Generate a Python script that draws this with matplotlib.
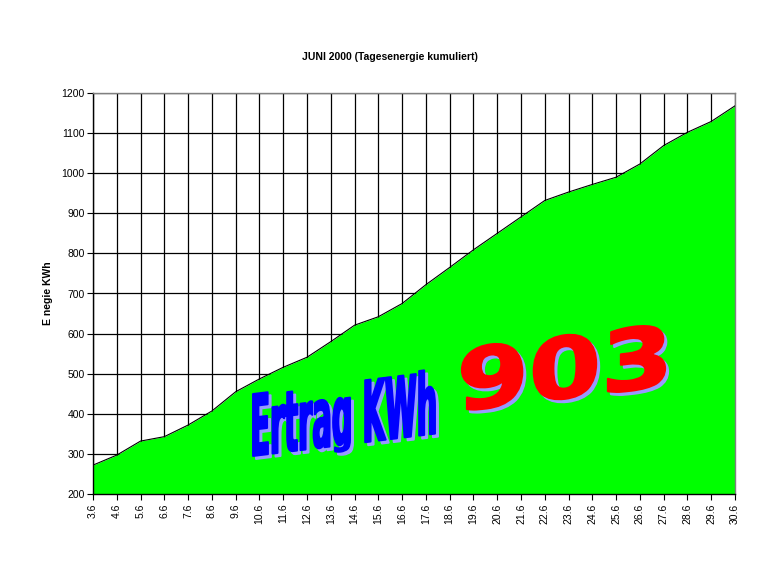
import matplotlib

matplotlib.use("Agg")
import matplotlib.pyplot as plt
import numpy as np
from matplotlib.font_manager import FontProperties
from matplotlib.patches import PathPatch
from matplotlib.path import Path
from matplotlib.textpath import TextPath
from matplotlib.transforms import Affine2D, IdentityTransform

plt.rcParams["font.family"] = ["Liberation Sans", "DejaVu Sans"]

days = ["3.6", "4.6", "5.6", "6.6", "7.6", "8.6", "9.6", "10.6", "11.6", "12.6",
        "13.6", "14.6", "15.6", "16.6", "17.6", "18.6", "19.6", "20.6", "21.6",
        "22.6", "23.6", "24.6", "25.6", "26.6", "27.6", "28.6", "29.6", "30.6"]
energy = [272, 297, 332, 343, 372, 407, 455, 487, 516, 541,
          580, 621, 642, 675, 722, 765, 809, 850, 891, 932,
          953, 972, 990, 1023, 1069, 1102, 1129, 1168]
title = "JUNI 2000 (Tagesenergie kumuliert)"
ylabel = "E negie KWh"
yield_label = "Ertrag KWh"
yield_value = "903"

W, H = 768, 576
fig = plt.figure(figsize=(W / 100, H / 100), dpi=100)
ax = fig.add_axes([93 / W, 1 - 494 / H, (735 - 93) / W, (494 - 93) / H])

x = np.arange(len(days))
ax.fill_between(x, 200, energy, color="#00ff00", zorder=2, lw=0)
ax.plot(x, energy, color="black", lw=0.8, zorder=3)

ax.set_xlim(0, len(days) - 1)
ax.set_ylim(200, 1200)
ax.set_yticks(range(200, 1201, 100))
ax.set_xticks(x)
ax.set_xticklabels(days, rotation=90, fontsize=7.5)
ax.tick_params(axis="y", labelsize=7.5, length=4, width=0.8, pad=2)
ax.tick_params(axis="x", length=4, width=0.8, pad=3)
ax.grid(True, color="black", lw=0.9, zorder=1)
ax.set_axisbelow(True)

for side in ("left", "bottom"):
    ax.spines[side].set_color("black")
    ax.spines[side].set_linewidth(1.0)
for side in ("top", "right"):
    ax.spines[side].set_color("#808080")
    ax.spines[side].set_linewidth(1.0)

fig.text(390 / W, 1 - 57 / H, title, ha="center", va="center",
         fontsize=7.5, fontweight="bold")
fig.text(48 / W, 1 - 293 / H, ylabel, ha="center", va="center",
         rotation=90, fontsize=7.5, fontweight="bold")


def word_art(text, left, baseline, width, cap_h, slope_deg, color, shadow, lw):
    # upright letters on a rising baseline (vertical shear), pixels with origin top-left
    fp = FontProperties(family="DejaVu Sans", weight="bold")
    tp = TextPath((0, 0), text, size=100, prop=fp)
    verts = tp.vertices.copy()
    verts[verts[:, 1] < 0, 1] *= 0.35  # short descenders, like the old WordArt font
    tp = Path(verts, tp.codes)
    bb = tp.get_extents()
    ref_h = TextPath((0, 0), "E", size=100, prop=fp).get_extents().height
    for dx, dy, col in ((3, -3, shadow), (0, 0, color)):
        tr = (Affine2D().translate(-bb.x0, 0)
              .scale(width / bb.width, cap_h / ref_h)
              .skew_deg(0, slope_deg)
              .translate(left + dx, H - baseline + dy))
        fig.patches.append(PathPatch(tr.transform_path(tp), facecolor=col,
                                     edgecolor=col, lw=lw, joinstyle="round",
                                     transform=IdentityTransform(), figure=fig))


word_art(yield_label, 253, 456, 182, 62, 7, "#0000ff", "#9999ff", 1.4)
word_art(yield_value, 462, 411, 203, 62, 7, "#ff0000", "#9999ff", 1.6)

fig.savefig("out.png", dpi=100)
